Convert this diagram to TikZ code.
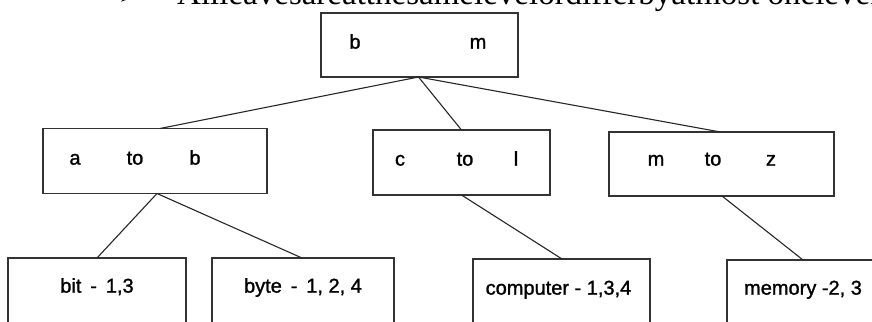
\documentclass[tikz,border=0pt]{standalone}
\usepackage{fontspec}
\setmainfont{Liberation Sans}
\newfontfamily\lblfont[FakeBold=1.3]{Liberation Sans}
\newfontfamily\headfont{Liberation Serif}
\newfontfamily\symfont{DejaVu Sans}
\usetikzlibrary{calc}
\begin{document}
\begin{tikzpicture}[x=1pt, y=-1pt,
  box/.style={draw=black!80, line width=1.2pt, inner sep=0pt, outer sep=0pt},
  wire/.style={draw=black!85, line width=1.1pt},
  lbl/.style={anchor=mid, inner sep=0pt, font=\lblfont\fontsize{20}{23}\selectfont},
  head/.style={anchor=base west, inner sep=0pt}]
  \useasboundingbox (0,0) rectangle (872,321);
  \clip (0,0) rectangle (872,321);

  % heading line above the tree
  \node[head, font=\symfont\fontsize{24}{28}\selectfont] (bullet) at (118,5) {➢};
  \node[head, font=\headfont\fontsize{33}{36}\selectfont] (heading) at (177,5)
    {Allleavesareatthesamelevelordifferbyatmost onelevel.};

  % root
  \node[box, minimum width=197pt, minimum height=64pt] (root) at (419.5,45) {};
  \node[lbl] (rootb) at (355,46) {b};
  \node[lbl] (rootm) at (478,46) {m};

  % second level
  \node[box, minimum width=224pt, minimum height=65pt] (ab) at (155,161) {};
  \node[lbl] (aba) at (75,162) {a};
  \node[lbl] (abto) at (135,162) {to};
  \node[lbl] (abb) at (195,162) {b};

  \node[box, minimum width=177pt, minimum height=65pt] (cl) at (461.5,162.5) {};
  \node[lbl] (clc) at (400,163) {c};
  \node[lbl] (clto) at (465,163) {to};
  \node[lbl] (cll) at (516,163) {l};

  \node[box, minimum width=225pt, minimum height=64pt] (mz) at (721.5,164) {};
  \node[lbl] (mzm) at (656,163) {m};
  \node[lbl] (mzto) at (713,163) {to};
  \node[lbl] (mzz) at (771,163) {z};

  % leaves
  \node[box, minimum width=178pt, minimum height=80pt] (bit) at (97,298) {};
  \node[lbl] (bittxt) at (97,290) {bit \,- \,1,3};
  \node[box, minimum width=182pt, minimum height=80pt] (byte) at (303,298) {};
  \node[lbl] (bytetxt) at (303,290) {byte \,- \,1, 2, 4};
  \node[box, minimum width=177pt, minimum height=80pt] (comp) at (561.5,299) {};
  \node[lbl] (comptxt) at (558.5,292) {computer - 1,3,4};
  \node[box, minimum width=152pt, minimum height=80pt] (mem) at (803,300) {};
  \node[lbl] (memtxt) at (803,292) {memory -2, 3};

  % connectors
  \draw[wire] ($(root.south)+(-1,0)$) -- ($(ab.north)+(5,0)$);
  \draw[wire] ($(root.south)+(-1,0)$) -- (cl.north);
  \draw[wire] ($(root.south)+(-1,0)$) -- ($(mz.north)+(-1,0)$);
  \draw[wire] ($(ab.south)+(2,0)$) -- (bit.north);
  \draw[wire] ($(ab.south)+(2,0)$) -- ($(byte.north)+(-1,0)$);
  \draw[wire] (cl.south) -- ($(comp.north)+(0.5,0)$);
  \draw[wire] ($(mz.south)+(0.5,0)$) -- (mem.north);
\end{tikzpicture}
\end{document}
